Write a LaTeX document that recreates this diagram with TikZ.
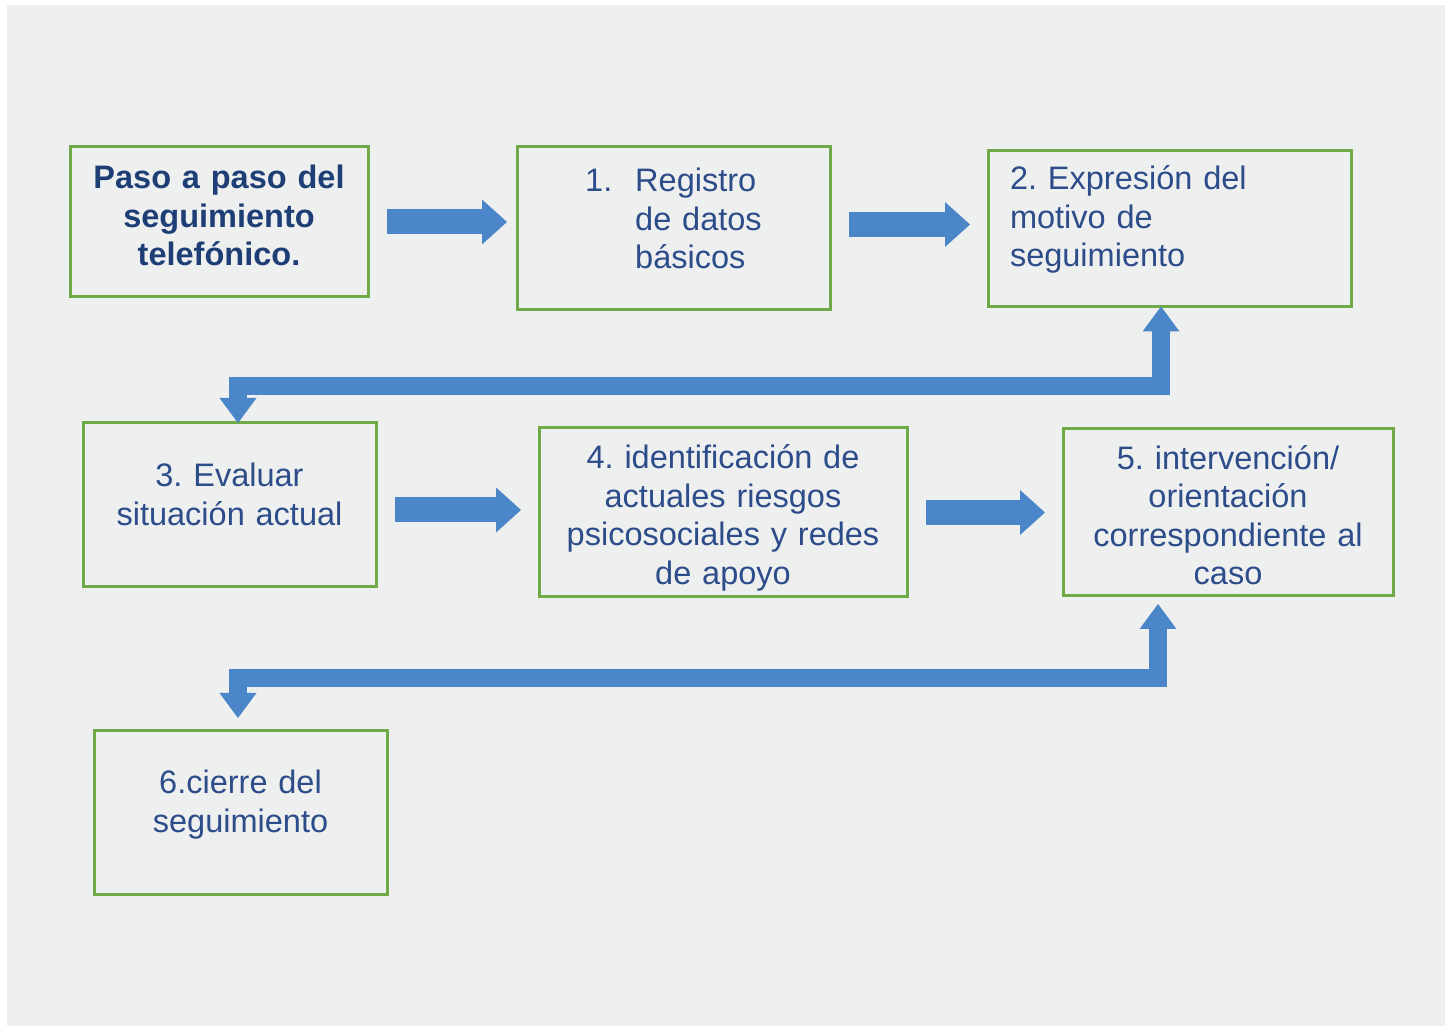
\documentclass[tikz,border=0pt]{standalone}
\usepackage{fontspec}
\setmainfont{Liberation Sans}
\frenchspacing
\usetikzlibrary{arrows.meta, positioning}
\definecolor{bgcolor}{RGB}{238,239,239}
\definecolor{boxgreen}{RGB}{112,170,72}
\definecolor{arrowblue}{RGB}{74,134,200}
\definecolor{titleblue}{RGB}{30,62,118}
\definecolor{textblue}{RGB}{44,76,138}
\tikzset{
    stepbox/.style={
        rectangle, draw=boxgreen, line width=0.06cm, text=textblue, outer sep=0pt,
        inner xsep=0.2cm, inner ysep=0.1cm, align=center, text height=0pt,
        font=\fontsize{18.5}{22}\selectfont
    },
    flowarrow/.style={
        -{Triangle[width=0.9cm, length=0.5cm, line width=0pt]},
        line width=0.5cm, draw=arrowblue, shorten <=0.38cm, shorten >=0.36cm
    },
    bendarrow/.style={
        {Triangle[width=0.74cm, length=0.5cm, line width=0pt]}-{Triangle[width=0.74cm, length=0.5cm, line width=0pt]},
        line width=0.36cm, draw=arrowblue, line join=miter
    }
}
\begin{document}
\begin{tikzpicture}

% Background
\fill[white] (0,0) rectangle (28.96,20.52);
\fill[bgcolor] (0.14,0) rectangle (28.9,20.42);

% First row
\node[stepbox, text width=5.56cm, minimum height=3cm, text depth=38pt, text=titleblue,
      font=\bfseries\fontsize{18.5}{22}\selectfont] (title) at (4.38,16.08)
      {Paso a paso del\\seguimiento\\telefónico.};
\node[stepbox, right=2.98cm of title, yshift=-0.13cm, text width=5.86cm, minimum height=3.26cm,
      text depth=42pt] (registro)
      {\begin{tabular}[t]{@{}p{1cm}@{}l@{}}1. & Registro\\ & de datos\\ & básicos\end{tabular}};
\node[stepbox, right=3.16cm of registro, text width=6.38cm, inner xsep=0.44cm, align=left,
      minimum height=3.12cm, text depth=44.3pt] (motivo) {2. Expresión del\\motivo de\\seguimiento};

% Second row
\node[stepbox, below=2.52cm of title, xshift=0.21cm, text width=5.46cm, minimum height=3.28cm,
      text depth=21pt] (evaluar) {3. Evaluar\\situación actual};
\node[stepbox, right=3.26cm of evaluar, yshift=-0.15cm, text width=6.96cm, minimum height=3.38cm,
      text depth=49.9pt] (riesgos)
      {4. identificación de\\actuales riesgos\\psicosociales y redes\\de apoyo};
\node[stepbox, right=3.12cm of riesgos, text width=6.2cm, minimum height=3.34cm,
      text depth=49.5pt] (interv)
      {5. intervención/\\orientación\\correspondiente al\\caso};

% Last step
\node[stepbox, below=2.86cm of evaluar, xshift=0.22cm, text width=5.46cm, minimum height=3.28cm,
      text depth=21pt] (cierre) {6.cierre del\\seguimiento};

% Straight arrows
\draw[flowarrow, shorten >=0.2cm] (title.east) -- (title.east -| registro.west);
\draw[flowarrow] ([yshift=0.08cm]registro.east) -- ([yshift=0.08cm]registro.east -| motivo.west);
\draw[flowarrow] ([yshift=-0.1cm]evaluar.east) -- ([yshift=-0.1cm]evaluar.east -| riesgos.west);
\draw[flowarrow] (riesgos.east) -- (riesgos.east -| interv.west);

% Bent arrows between rows
\draw[bendarrow] ([xshift=-0.17cm]motivo.south) -- ++(0,-1.6) -| ([xshift=0.17cm]evaluar.north);
\draw[bendarrow, shorten <=0.16cm, shorten >=0.24cm] ([xshift=-1.4cm]interv.south) -- ++(0,-1.64)
      -| ([xshift=-0.05cm]cierre.north);

\end{tikzpicture}
\end{document}
